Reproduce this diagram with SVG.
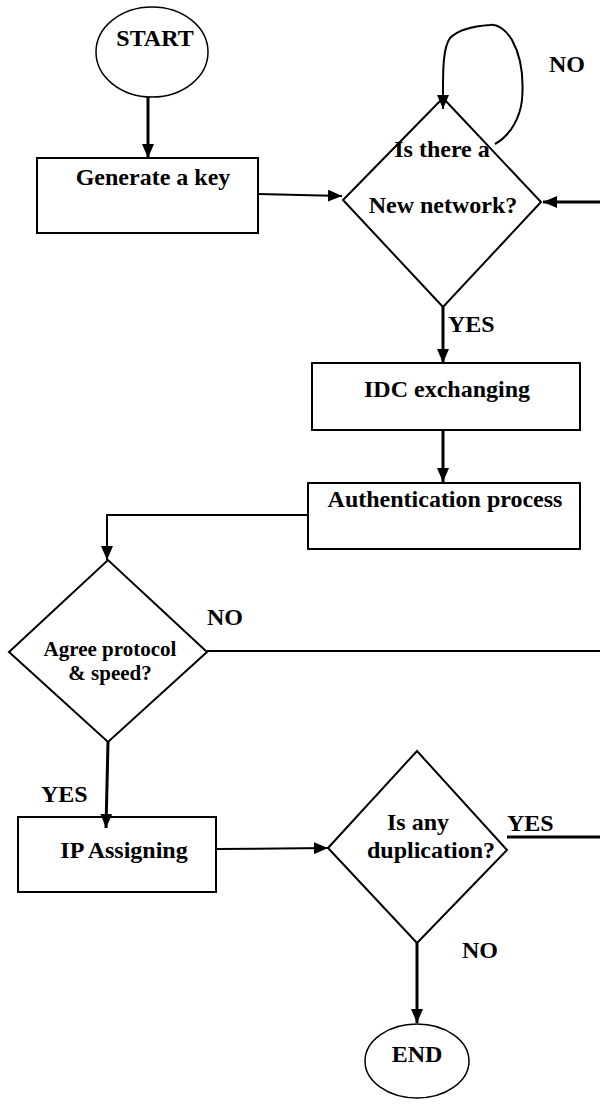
<svg xmlns="http://www.w3.org/2000/svg" width="600" height="1104" viewBox="0 0 600 1104">
<style>
  .shape { fill: #fff; stroke: #000; stroke-width: 2; }
  .oval { fill: #fff; stroke: #000; stroke-width: 1.5; }
  .lbl { font-family: "Liberation Serif", "Times New Roman", serif; font-weight: bold; font-size: 24px; fill: #000; }
  .sm { font-size: 21px; }
  .mid { text-anchor: middle; }
  .conn { fill: none; stroke: #000; stroke-width: 2; }
  .thick { stroke-width: 3; }
</style>
<defs>
  <marker id="arr" markerUnits="userSpaceOnUse" markerWidth="14" markerHeight="12" refX="14" refY="6" orient="auto">
    <path d="M0,0 L14,6 L0,12 z" fill="#000"/>
  </marker>
</defs>
<rect width="600" height="1104" fill="#fff"/>

<g id="start">
  <ellipse class="oval" cx="152" cy="52" rx="56" ry="45"/>
  <text class="lbl mid" x="155" y="46">START</text>
</g>

<g id="generate-key">
  <rect class="shape" x="37" y="158" width="221" height="75"/>
  <text class="lbl mid" x="153" y="185">Generate a key</text>
</g>

<g id="new-network">
  <polygon class="shape" points="343,200 443,98 541,202 443,307"/>
  <text class="lbl mid" x="442" y="157">Is there a</text>
  <text class="lbl mid" x="443" y="213">New network?</text>
  <text class="lbl mid" x="567" y="72">NO</text>
  <text class="lbl" x="448" y="332">YES</text>
</g>

<g id="idc-exchanging">
  <rect class="shape" x="312" y="363" width="268" height="67"/>
  <text class="lbl mid" x="447" y="397">IDC exchanging</text>
</g>

<g id="authentication">
  <rect class="shape" x="308" y="483" width="272" height="66"/>
  <text class="lbl mid" x="445" y="507">Authentication process</text>
</g>

<g id="agree-protocol">
  <polygon class="shape" points="9,652 108,560 207,652 108,742"/>
  <text class="lbl sm mid" x="110" y="656">Agree protocol</text>
  <text class="lbl sm mid" x="110" y="680">&amp; speed?</text>
  <text class="lbl mid" x="225" y="625">NO</text>
  <text class="lbl" x="41" y="802">YES</text>
</g>

<g id="ip-assigning">
  <rect class="shape" x="18" y="817" width="198" height="75" stroke-width="4"/>
  <text class="lbl mid" x="124" y="858">IP Assigning</text>
</g>

<g id="duplication">
  <polygon class="shape" points="328,848 417,751 507,850 417,943"/>
  <text class="lbl mid" x="418" y="830">Is any</text>
  <text class="lbl mid" x="431" y="858">duplication?</text>
  <text class="lbl" x="507" y="831">YES</text>
  <text class="lbl mid" x="480" y="958">NO</text>
</g>

<g id="end">
  <ellipse class="oval" cx="417" cy="1061" rx="52" ry="37"/>
  <text class="lbl mid" x="417" y="1062">END</text>
</g>

<g id="connectors">
  <line class="conn thick" x1="148" y1="97" x2="148" y2="158" marker-end="url(#arr)"/>
  <line class="conn" x1="258" y1="194" x2="342" y2="196" marker-end="url(#arr)"/>
  <path class="conn" stroke-width="1.5" d="M495,144 C510,136 520,118 522,100 C524,76 521,56 512,40 C505,28 496,24 490,25 C475,26 458,30 450,38 C443,48 443,70 443,90 L443,109" marker-end="url(#arr)"/>
  <line class="conn thick" x1="600" y1="202" x2="543" y2="202" marker-end="url(#arr)"/>
  <line class="conn thick" x1="443" y1="307" x2="443" y2="363" marker-end="url(#arr)"/>
  <line class="conn thick" x1="443" y1="430" x2="443" y2="482" marker-end="url(#arr)"/>
  <polyline class="conn" points="308,515 107,515 107,560" marker-end="url(#arr)"/>
  <line class="conn" x1="207" y1="651" x2="600" y2="651"/>
  <line class="conn thick" x1="108" y1="742" x2="106" y2="828" marker-end="url(#arr)"/>
  <line class="conn" x1="216" y1="849" x2="328" y2="848" marker-end="url(#arr)"/>
  <line class="conn thick" x1="507" y1="837" x2="600" y2="837"/>
  <line class="conn thick" x1="417" y1="943" x2="417" y2="1023" marker-end="url(#arr)"/>
</g>
</svg>
